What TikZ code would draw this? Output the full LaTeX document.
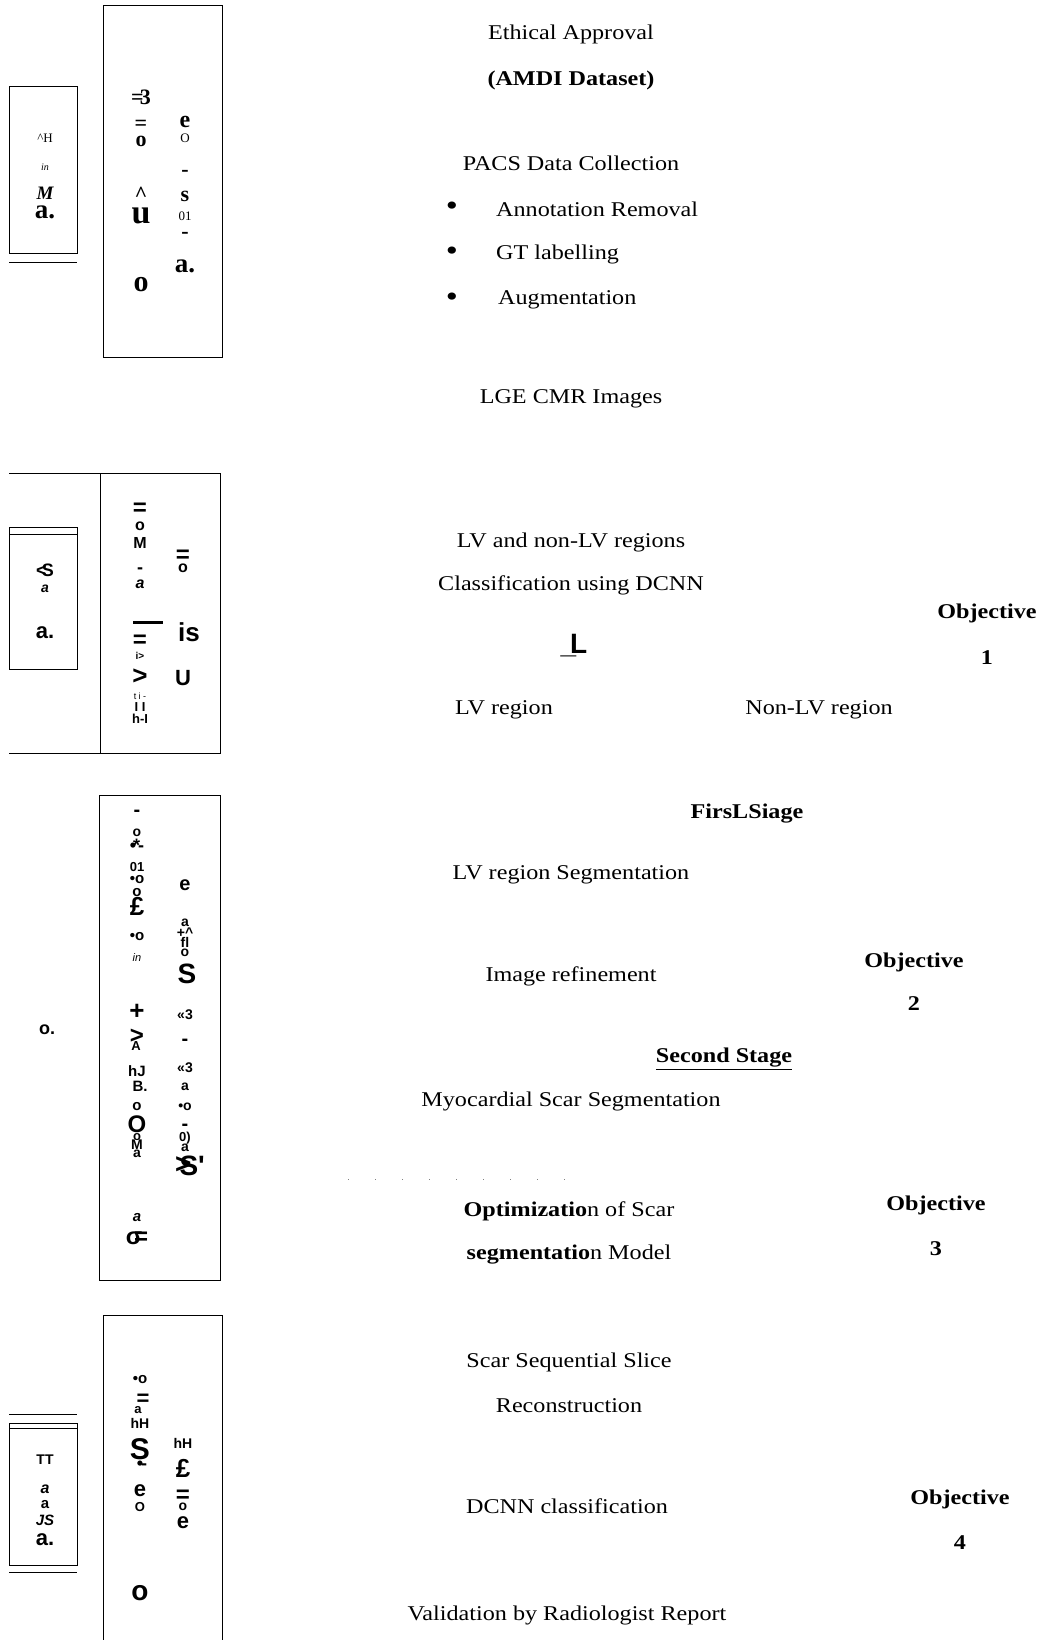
\documentclass[tikz,border=0pt]{standalone}
\usepackage{fontspec}
\setmainfont{Liberation Serif}[FakeStretch=1.15]
\newfontfamily\glyphsans{Liberation Sans}
\newfontfamily\glyphserif{Liberation Serif}
\usetikzlibrary{positioning}

\begin{document}
\begin{tikzpicture}[
  x=1pt, y=-1pt,
  stage/.style={inner sep=0pt, font=\fontsize{21}{25}\selectfont},
  goal/.style={inner sep=0pt, font=\fontsize{21}{25}\selectfont\bfseries},
  gr/.style={inner sep=0pt, font=\glyphserif\bfseries\fontsize{#1}{#1}\selectfont},
  gr/.default=22,
  gl/.style={inner sep=0pt, font=\glyphsans\bfseries\fontsize{#1}{#1}\selectfont},
  gl/.default=16,
  frame/.style={draw, line width=1pt}
]
\useasboundingbox (0,0) rectangle (1046,1640);

% left frames
\draw[frame] (9,87) rectangle (77,253);
\draw[frame] (9,262) -- (77,262);
\draw[frame] (103,6) rectangle (222,357);

\draw[frame] (9,473) -- (220,473) -- (220,753) -- (9,753);
\draw[frame] (100,473) -- (100,753);
\draw[frame] (9,527) rectangle (77,669);
\draw[frame] (9,534) -- (77,534);

\draw[frame] (99,795) rectangle (220,1280);

\draw[frame] (9,1414) -- (77,1414);
\draw[frame] (9,1423) rectangle (77,1565);
\draw[frame] (9,1428) -- (77,1428);
\draw[frame] (9,1572) -- (77,1572);
\draw[frame] (103,1645) -- (103,1315) -- (222,1315) -- (222,1645);

% glyphs, block 1
\node[gr=13, font=\glyphserif\fontsize{13}{13}\selectfont] (a1) at (45,138) {\textasciicircum H};
\node[gr=10, font=\glyphserif\itshape\fontsize{10}{10}\selectfont] (a2) at (45,167) {in};
\node[gr=19, font=\glyphserif\bfseries\itshape\fontsize{19}{19}\selectfont] (a3) at (45,193) {M};
\node[gr=27] (a4) at (45,212) {a.};
\node[gr] (a5) at (141,97) {=\kern-4pt3};
\node[gr] (a6) at (141,125) {=};
\node[gr] (a7) at (141,141) {o};
\node[gr] (a8) at (141,194) {\textasciicircum};
\node[gr=34] (a9) at (141,216) {u};
\node[gr=30] (a10) at (141,285) {o};
\node[gr=24] (a11) at (185,122) {e};
\node[gr=13, font=\glyphserif\fontsize{13}{13}\selectfont] (a12) at (185,138) {O};
\node[gr] (a13) at (185,173) {-};
\node[gr] (a14) at (185,196) {s};
\node[gr=13, font=\glyphserif\fontsize{13}{13}\selectfont] (a15) at (185,216) {01};
\node[gr] (a16) at (185,235) {-};
\node[gr=27] (a17) at (185,266) {a.};

% glyphs, block 2
\node[gl=18] (b1) at (45,570) {<\kern-5pt S};
\node[gl=14, font=\glyphsans\bfseries\itshape\fontsize{14}{14}\selectfont] (b2) at (45,589) {a};
\node[gl=22] (b3) at (45,633) {a.};
\node[gl=24] (b4) at (140,509) {=};
\node[gl] (b5) at (140,526) {o};
\node[gl] (b6) at (140,543) {M};
\node[gl=18] (b7) at (140,571) {-};
\node[gl, font=\glyphsans\bfseries\itshape\fontsize{16}{16}\selectfont] (b8) at (140,584) {a};
\node[inner sep=0pt] (b9) at (148,622) {\rule{30pt}{3pt}};
\node[gl=24] (b10) at (140,641) {=};
\node[gl=10] (b11) at (140,656) {i>};
\node[gl=26] (b12) at (140,677) {>};
\node[gl=9, font=\glyphsans\fontsize{9}{9}\selectfont] (b13) at (140,696) {t i -};
\node[gl=13] (b14) at (140,707) {I I};
\node[gl=13] (b15) at (140,719) {h-I};
\node[gl=24] (b16) at (183,556) {=};
\node[gl] (b17) at (183,568) {o};
\node[gl=26] (b18) at (189,632) {is};
\node[gl=22] (b19) at (183,678) {U};

% glyphs, block 3
\node[gl=18] (c0) at (47,1030) {o.};
\node[gl=20] (c1) at (137,813) {-};
\node[gl=14] (c2) at (137,833) {o};
\node[gl=18] (c3) at (137,845) {\textbullet\kern-3pt*\kern-2pt-};
\node[gl=13] (c4) at (137,867) {01};
\node[gl=15] (c5) at (137,880) {\textbullet o};
\node[gl=15] (c6) at (137,893) {o};
\node[gl=26] (c7) at (137,906) {£};
\node[gl=15] (c8) at (137,937) {\textbullet o};
\node[gl=11, font=\glyphsans\itshape\fontsize{11}{11}\selectfont] (c9) at (137,958) {in};
\node[gl=26] (c10) at (137,1012) {+};
\node[gl=24] (c11) at (137,1036) {>};
\node[gl=13] (c12) at (136,1046) {A};
\node[gl=15] (c13) at (137,1071) {hJ};
\node[gl=15] (c14) at (140,1086) {B.};
\node[gl=15] (c15) at (137,1107) {o};
\node[gl=24] (c16) at (137,1124) {O};
\node[gl=13] (c17) at (137,1137) {o};
\node[gl=14] (c18) at (137,1145) {M};
\node[gl=14] (c19) at (137,1154) {a};
\node[gl=15, font=\glyphsans\bfseries\itshape\fontsize{15}{15}\selectfont] (c20) at (137,1218) {a};
\node[gl=24] (c21) at (137,1238) {σ\kern-8pt=};
\node[gl=20] (c22) at (185,885) {e};
\node[gl=14] (c23) at (185,923) {a};
\node[gl=14] (c24) at (185,933) {+\textasciicircum};
\node[gl=14] (c25) at (185,942) {fl};
\node[gl=14] (c26) at (185,953) {o};
\node[gl=28] (c27) at (187,974) {S};
\node[gl=14] (c28) at (185,1015) {«3};
\node[gl=20] (c29) at (185,1042) {-};
\node[gl=14] (c30) at (185,1068) {«3};
\node[gl=14] (c31) at (185,1087) {a};
\node[gl=14] (c32) at (185,1107) {\textbullet o};
\node[gl=20] (c33) at (185,1127) {-};
\node[gl=13] (c34) at (185,1138) {0)};
\node[gl=14] (c35) at (185,1148) {a};
\node[gl=28] (c36) at (190,1166) {\raisebox{2pt}{>}\kern-12pt S'};

% glyphs, block 4
\node[gl=14] (d1) at (45,1460) {TT};
\node[gl=16, font=\glyphsans\bfseries\itshape\fontsize{16}{16}\selectfont] (d2) at (45,1489) {a};
\node[gl=15] (d3) at (45,1505) {a};
\node[gl=15, font=\glyphsans\bfseries\itshape\fontsize{15}{15}\selectfont] (d4) at (45,1520) {JS};
\node[gl=22] (d5) at (45,1540) {a.};
\node[gl=15] (d6) at (140,1380) {\textbullet o};
\node[gl=22] (d7) at (143,1400) {=};
\node[gl=13] (d8) at (138,1410) {a};
\node[gl=14] (d9) at (140,1423) {hH};
\node[gl=30] (d10) at (140,1449) {S};
\node[gl=18] (d11) at (142,1465) {\textbullet\kern-2pt-};
\node[gl=22] (d12) at (140,1491) {e};
\node[gl=13] (d13) at (140,1507) {O};
\node[gl=28] (d14) at (140,1593) {o};
\node[gl=14] (d15) at (183,1443) {hH};
\node[gl=26] (d16) at (183,1468) {£};
\node[gl=24] (d17) at (183,1496) {=};
\node[gl=14] (d18) at (183,1507) {o};
\node[gl=22] (d19) at (183,1523) {e};

% stage texts
\node[stage] (ethic) at (571,34) {Ethical Approval};
\node[goal] (amdi) at (571,80) {(AMDI Dataset)};
\node[stage] (pacs) at (571,163) {PACS Data Collection};
\node[stage, anchor=west] (annot) at (496,209) {Annotation Removal};
\node[stage, anchor=west] (gtlab) at (496,254) {GT labelling};
\node[stage, anchor=west] (augm) at (498,300) {Augmentation};
\node[inner sep=0pt, font=\fontsize{30}{30}\selectfont] (bul1) at (452,209) {\textbullet};
\node[inner sep=0pt, font=\fontsize{30}{30}\selectfont] (bul2) at (452,254) {\textbullet};
\node[inner sep=0pt, font=\fontsize{30}{30}\selectfont] (bul3) at (452,300) {\textbullet};
\node[stage] (lge) at (571,399) {LGE CMR Images};

\node[stage] (lvnon) at (571,542) {LV and non-LV regions};
\node[stage] (clsf) at (571,585) {Classification using DCNN};
\node[inner sep=0pt, font=\glyphsans\bfseries\fontsize{28}{28}\selectfont] (mark) at (574,646) {\_\kern-6pt L};
\node[stage] (lvreg) at (504,710) {LV region};
\node[stage] (nonlv) at (819,710) {Non-LV region};
\node[goal] (obj1) at (987,613) {Objective};
\node[goal] (num1) at (987,658) {1};

\node[goal] (first) at (747,814) {FirsLSiage};
\node[stage] (lvseg) at (571,875) {LV region Segmentation};
\node[stage] (refine) at (571,976) {Image refinement};
\node[goal] (obj2) at (914,962) {Objective};
\node[goal] (num2) at (914,1004) {2};

\node[goal] (second) at (724,1059) {\underline{Second Stage}};
\node[stage] (myoseg) at (571,1101) {Myocardial Scar Segmentation};
\coordinate (dotl) at (348,1179);
\coordinate (dotr) at (565,1179);
\draw[gray, line width=1pt, dash pattern=on 1pt off 26pt] (dotl) -- (dotr);
\node[stage] (optim) at (569,1211) {\textbf{Optimizatio}n of Scar};
\node[stage] (segmod) at (569,1255) {\textbf{segmentatio}n Model};
\node[goal] (obj3) at (936,1205) {Objective};
\node[goal] (num3) at (936,1249) {3};

\node[stage] (slice) at (569,1362) {Scar Sequential Slice};
\node[stage] (recon) at (569,1406) {Reconstruction};
\node[stage] (dcnn) at (567,1506) {DCNN classification};
\node[goal] (obj4) at (960,1499) {Objective};
\node[goal] (num4) at (960,1543) {4};
\node[stage] (valid) at (567,1615) {Validation by Radiologist Report};

\end{tikzpicture}
\end{document}
